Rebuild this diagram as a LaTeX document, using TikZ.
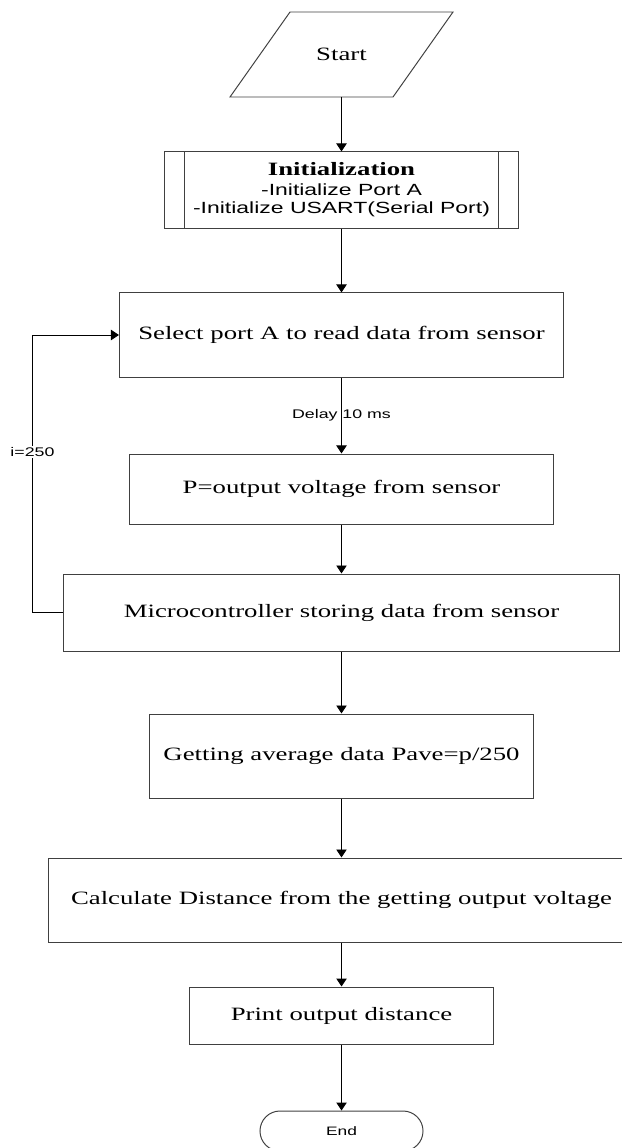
\documentclass[tikz,border=0pt]{standalone}
\usepackage{fontspec}
\setmainfont{Liberation Serif}[FakeStretch=1.42]
\setsansfont{Liberation Sans}[FakeStretch=1.42]
\usepackage{tikz}
\usetikzlibrary{arrows.meta,positioning}

\tikzset{
  box/.style={draw=black!75,line width=0.7pt,rectangle,align=center,font=\fontsize{13.4}{16}\selectfont},
  lbl/.style={font=\sffamily\fontsize{8.9}{10}\selectfont,inner sep=1pt},
  flow/.style={line width=0.7pt,-{Triangle[width=2.6mm,length=2mm]}}
}

\begin{document}
\begin{tikzpicture}[x=0.025cm,y=-0.025cm]
\useasboundingbox (0,0) rectangle (622,1148);
% start (input/output shape)
\node[font=\fontsize{13.4}{16}\selectfont] (start) at (341.5,54.5) {Start};
\draw[draw=black!75,line width=0.7pt] (290,12) -- (453,12) -- (393,97) -- (230,97) -- cycle;
\coordinate (startb) at (341.5,97);
% steps
\node[box,minimum width=8.825cm,minimum height=1.9cm] (init) at (341.5,190)
  {\textbf{Initialization}\\[-2pt]
   {\sffamily\fontsize{11.5}{12}\selectfont -Initialize Port A}\\[-3pt]
   {\sffamily\fontsize{11.5}{12}\selectfont -Initialize USART(Serial Port)}};
\draw[draw=black!75,line width=0.7pt] ([xshift=0.5cm]init.north west) -- ([xshift=0.5cm]init.south west);
\draw[draw=black!75,line width=0.7pt] ([xshift=-0.5cm]init.north east) -- ([xshift=-0.5cm]init.south east);
\node[box,minimum width=11.1cm,minimum height=2.1cm] (select) at (341.5,335) {Select port A to read data from sensor};
\node[box,minimum width=10.6cm,minimum height=1.75cm] (volt) at (341.5,489) {P=output voltage from sensor};
\node[box,minimum width=13.875cm,minimum height=1.925cm] (store) at (341.5,612.5) {Microcontroller storing data from sensor};
\node[box,minimum width=9.575cm,minimum height=2.1cm] (avg) at (341.5,756) {Getting average data Pave=p/250};
\node[box,minimum width=14.65cm,minimum height=2.1cm] (dist) at (341.5,900) {Calculate Distance from the getting output voltage};
\node[box,minimum width=7.575cm,minimum height=1.425cm] (print) at (341.5,1015.5) {Print output distance};
\node[box,rounded corners=0.5cm,minimum width=4.075cm,minimum height=1cm,font=\sffamily\fontsize{8.7}{10}\selectfont] (stop) at (341.5,1131) {End};
% connectors
\draw[flow] (startb) -- (init);
\draw[flow] (init) -- (select);
\draw[flow] (select) -- node[lbl]{Delay 10 ms} (volt);
\draw[flow] (volt) -- (store);
\draw[flow] (store) -- (avg);
\draw[flow] (avg) -- (dist);
\draw[flow] (dist) -- (print);
\draw[flow] (print) -- (stop);
\draw[flow] (store.west) -- ++(-31,0) |- node[pos=0.29,lbl,fill=white]{i=250} (select.west);
\end{tikzpicture}
\end{document}
